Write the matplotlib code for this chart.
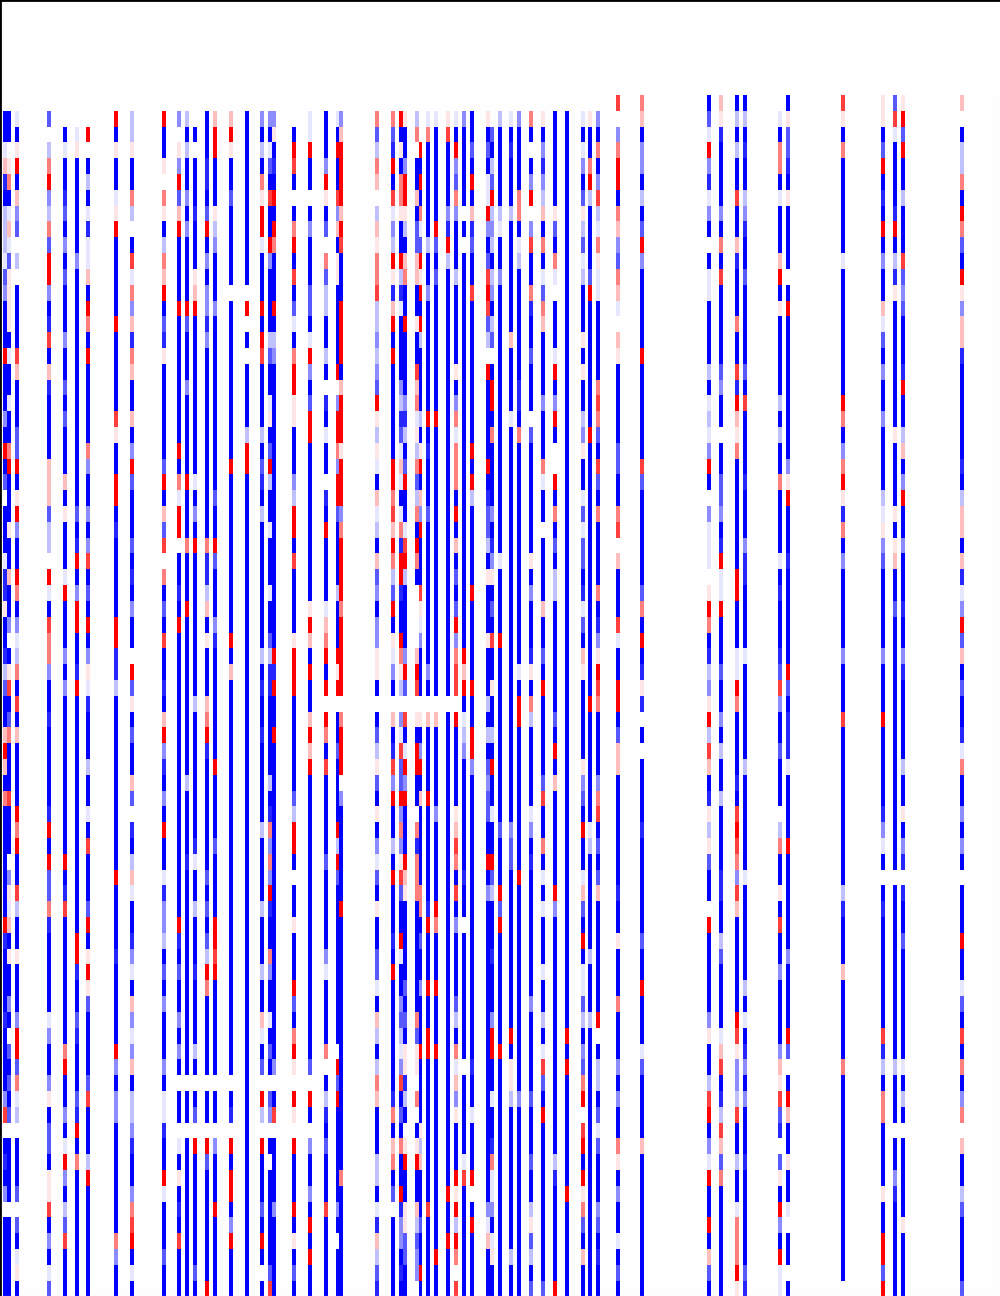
import matplotlib
matplotlib.use('Agg')
import matplotlib.pyplot as plt
import numpy as np

# Colunas preenchidas do heatmap (as outras ficam brancas)
column_ids = [0, 1, 3, 11, 15, 18, 21, 28, 32, 40, 44, 46, 48, 51, 53, 57, 61, 65, 67, 68, 73, 77, 81, 84, 85,
              94, 98, 100, 101, 104, 105, 107, 109, 112, 114, 116, 118, 122, 123, 125, 128, 130, 133, 136, 139,
              142, 146, 148, 150, 155, 161, 178, 181, 185, 187, 196, 198, 212, 222, 225, 227, 242]

# Um caractere por celula
level_chars = ['B', 'A', 'm', 'n', 'l', 'k', '.', 'p', 'q', 'o', 'r', 'R']
level_values = [-1.0, -0.85, -0.65, -0.45, -0.25, -0.1, 0.0, 0.1, 0.25, 0.5, 0.75, 1.0]

rows_00_18 = [
    ".BBkqABlllkmnBBBRBB", ".BB.poBkqkmppppBkBB", ".kBpRBqnm.l.BBBBrqB", ".m.loRnlomRRnBArBqA", "..BkBBAmBnBmBBBnBBm",
    "..kpBBBBBBnBBBBBBBB", "..R.BlBkAkkqBRoBRBB", ".RBpBBkpRBBBBBRBBBB", ".llpBBol.BrkonqAoqB", ".RBBp.opBloqRBmApBB",
    ".n.pnRmqRBBBBRBBBBB", ".lBlBBnBnBBBBRmBBBn", "..B.BBBABBBpqRBBBBB", ".BBBAABmRBnBnnAnBBB", ".qRRBBBplnBBBnBBBBB",
    ".qRpBBmBBBBB.BBBBBB", ".BBBBBBBBBBB.R.B.BB", ".nBlBopRRkBBBRBRrBB", ".nBkmBrBBRnBBBBlmBB", ".npBABRBRoBBBRBlnBB",
    "..BRrB.BoRBrBmkBoRR", ".kkRBB.BnBBBmmBkRnB", ".BBBnRpBm.omllBBlB.", ".kBRBBrnqBppBBBBBR.", ".nqRRRRqRrBBBRRRRBq",
    ".omloq.lqpoorllnlnm", ".omARBrknlRpAqRBRBB", ".RBpBoopBBRlAkBBBBn", ".pBBnRRplBqoBBRBBBB", ".lo.BBqBmmqqBBpBBrq",
    "...RBRBokmRpRBRlBBB", ".koBBBBBBlBBnBBBBBB", ".kBBBBBBRmBmBBBBBBB", ".prBBBBnARlBBBBBBBB", ".kBRnmonBBBlBBBBBpB",
    ".nBBBBB.B.BBBBBBBBB", ".BBmBRBqAmBBrBBBBBB", ".pBmBkkRnBmrRrml.RB", "..mBlmRlnlBlnBlm.BR", ".lBBBBBlkBBnBBBBBBB",
    ".kBABBBlBBBBBBBqBBB", ".nBBBBooBklBBBBBBBA", ".oB.BnR.nrBBoABBmBB", ".pBnAnlqBoBkmoqBBBB", ".BBBBBBpmBok.BBBkRB",
    ".BBBBBBBBBBBBBBBBBB", ".kBknBmplmklBBBpBpB", ".pBBoRlBBBBmRBBBBBB", ".nBoBnrlkopkkBBBBBo", "r.noRRBoqnmoqk.qpBB",
    "oqBnnBlBmRnBBBBBRBB", "BmkRnAknB.BkkBBBBlB", "qpABBBBnBoBrBBBBBmn", "BlBlBBrBBqABBBoBBrA", "BlBABBlnABBmBBBBBmB",
    ".kBooBkBBBqRBpBBBBB", "BpmmABpBBBB.BRBBBBB", "rpBoBBBBBBkBBBBBBBB", "ppBmRBABRBnBBqkmBnB", "mrkBBBBARBlApBBBBBB",
    "pRmRBBlBBBrmnmBBBAR", "q.BlloBRomBRpnqqABB",
]

rows_19_37 = [
    "BnBRBm.BBBkAApBBAlm", "kBBoRBBBpBBqBBn.Bpr", "BBmmRBpRnBBRoBnkloB", "BBBBqqqmll.RkBroonB", "BmBBBqBpBBBkRBBBnBn",
    "BBBBBBBmBARBnRRBBAR", "BBBonBBnBnrBmBRBnpk", "BrpBBRRBABBBBBRRAAl", "BqBnRmBBBmBABnBB.Rm", "BBBBmRBqmr.oBmBrBBA",
    "BBBRBokRR.BBABRBBBB", "BBBBBRBBBoBBBRBBBBB", "BBBBBkBnBRBBBBBBBBB", "BBBBBBBBBoAAlqBpBBB", "BBBBBBmBBRmBBBnABBB",
    "BBBBRBBBBBBBBBBRBqB", "BBlRRBBBBBBBBBBBBBB", "BBlBmABlBBBBBBBBlBA", "kpBmRlBBkBBBkBBmlAA", "BBBBBBBBBBBBBBBBRAR",
    "ppBBBnlRRBrBBBBpRRR", "mRRBBBBBBBBBBpRqBRB", "ABkBB.ABRBBBBkqoRBR", "nRRonRRmBBBBlBBBRpR", "RRRpRRRnoRRRRoRRRRR",
    "RplpkBqklBqmnBnnppB", "BBBBRRorqRolmRBpknB", "lAmkqkBkoARRABBRopl", "nAlBmRBBkrRlBBBBnRm", "okplomloBRoB....qRr",
    "BlBpRBqnRBBBrpknBBB", "BRBABBBmBBBBBBBBBnB", "BRBBBBBBBBBBBBBBBBB", "BBBBBBBBBBBBBBBBBBB", "nokoooBRBqBmBmRnorr",
    "BBBBBBBBBBBBBBBBRqR", "BBBRBRlBBBBBRBBBBBR", "BBBBRBAmmlBpBBBpBBB", "RBoBBBBnBAnpBmBrBBp", "BBBBBBBBBBkBBBBRBBB",
    "BkBBBBBBBBBBBBBBBBB", "ABoBBBBBBBBBBBBBBkB", "B.mBBBBBBBpBnBBBApB", "nBBBokBB.BBBBqBBmBR", "nRB..RBoBmBllBBBBBB",
    "BBBBBBBBBBBBBBBBBBB", "BlnpBBkmkmmBAkmBqpB", "BBRBBBBBBBBBBBBBBBB", "romBrmBoBBBBoBAnpRr", "BBBmmBBor.qBBBrkBBR",
    "BBBBrmBBBBBBmoBRBAp", "klknRB.nkkk.pRoBAln", "BB.BBmmnBARkkRBBBmB", "RqpoBBBBBBBRRBBBkkR", "rBBBBABBBnAABBBBkBB",
    "lBlBBoBBBBkBABBBAmr", "BBBBnpRBBBABBBBBBRm", "RoBnoRpAoBnBBBBBnBB", "BnBBBBlkpnmBBBBBnBB", "BBpBBBBpBpqBBmBBBBB",
    "BBlqBnRBBnBBBABBnAB", "BBBBABlqqBqAknRmqBm",
]

rows_38_56 = [
    "BBqRqBoBBBBBBBRABBB", "BmoBBBrBBB.npkqBpBB", "rBqBBBBRoRBBrlBBpBB", "BABBBBBARBRmmoABBBB", "BBBBBBBBBBRBArBBBBB",
    "BBBBBBBBBBBBBBBRRAB", "ABBBlBBkBrBBBmRBpRp", "BBBBBBBBBBBRBBBBABB", "pBmBBqm.ABlqkBBAnkB", "BqRnABnBRBBkAnnlBmB",
    "BBBBBBBBBBBBBBRABmB", "BBBBBlBBBBABBBBBBBB", "lBBBBBBBBAkBBlBBBAB", "qoRABBBBBBBmBmBmlRo", "BBBBRBBBBmBBBBRRrRB",
    "BBBBBBBBBBBBBBBBBBB", "BBBBBBBBBBBBBBBBBBB", "BBABBBBBlBBBBlBBBlB", "BBBBBlBAononRABBonB", "BBRBBBBBBBBBBBBBBBB",
    "BBBBBBmlRRB.BBpBBBR", "BqRqRBBBBBBBBBBBBBB", ".RoBrBBBBBmBBBBBnkB", ".BBmBBBBRlRmBBBBBBB", ".oRRR.nBBBBBBRBBBBB",
    ".BmlpmBpBnkmBpBBmmk", ".qBArnRBBlBRBBBABRB", ".nkrmmRnonprmBBRkBB", ".rBkRnRBBBRqpBBBBBm", ".pBRRBB.oAoooBBBBBB",
    ".pBnRBqBBBBBooBmBBn", ".qBBBBRBBBBBBARBBBR", ".qBBBBBnBBBBBRoBBBR", ".BBBBBBBBBBBBBBBBBB", ".RBBBBBpqroBrBnBBBB",
    "BklnBBBBBBBABB.BBBB", "BBRRnBBBBBBBBBBBBBB", "lBlBmnmmBBRBnBBBBBB", "BBlBRBBkBBRmlBBBABB", "BBBBBBBBmBBBRmRBBBB",
    "BBBBBBBBnmmBBBBBBBB", "RRBBBBBBBBBRBBBBBBB", "olBBBBBknBABBBBBBBB", "BBBBBmrBBoBkBkBBBkB", "BmBRBqBBBBBBRnBBBBB",
    "BBBBBBBBBBBBBBBBBBB", "BBBBpnmBRBBkqmBRBkk", "RBBBBBBBklBBBBBBlBB", "oBBBBnorBmBmqBBBBBB", "RBmqqBBBBBBBABBpBBB",
    "A.B.BBBBABBBBBBmBBR", "pRlrqBAplpmBB.RBBBB", "BnBlBBlBBBBAABBlmBB", "oBBBBABrRronrqBBBBB", "BBBBlBBBBBBkBBBBBBl",
    "nBBmBBB.loBBpBrBBnB", "BAAAkBBBBRBBBBBBnBB", "BrBBBBBBBBBBlABBBqB", "BRBBBBBAnkB.BABBBBB", "BBBBBBBBBBB.BBBBBBB",
    "BBBBlBBpBnA.ABBmBBB", "BBAkoBBnBnB.BBBRBBk",
]

rows_57_75 = [
    "BABBBBnr.BABn.BBBBB", "nB.mBmBm.BBBB.BBBBB", "BnRRmokl.BBBm.mBkpB", "BknBBnpBmmBpprBnBkm", "BBBoRBBnBkRnBlmrBBB",
    "BmABBBmARBoBBBBBBBB", "mBBBBmrBBBlRBBBBBBB", "BBBRnBnnBBBBBBBonBB", "qnknqBllnABBnorRBkB", "nBBBnBkkABBRkBBBmBB",
    "BnBnB.BB.kBpBABrBBB", "BBBBB.BB.BBBBBBBBBB", "BBBlB.Bm.RBBBBBBBmB", "BBBBB.BB.RmBBBBBBBR", "BBBBB.BB.nBBBRBBBBB",
    "BBBBB.BA.RBRRBnRBBB", "BBBBBBBBBBBBBBBBBBB", "BqkBm.Rl.RBBBmBRB.B", "BkBmB.mn.B.BBBBBBmr", "BBBBn.Br.BBBBnBBBBB",
    "mBoRp.Rp.RBBBRBpBmB", "BBBBm.RB.nBBnBRBRBB", "BBBo.BlABmBBBrBBBBB", "BBB.RmRBBBBBBnB.BBB", "BBBBBBBBBBBoBBBBBBB",
    "BqlBloqBBBllBkAqlmA", "BBBBBBAoBqoBm.BBBBB", "nmlknrBmBoBBRAnnBAB", "BmBppAlB.pRBBppmmBB", "Bompp.o.BpRBBqlmnn.",
    "BBBRBBBBplqBBBmBBRB", "BBRRBBBBBBBBBrBBBBB", "BBBRBBBBBBBBBBBBRBB", "BBBBBBBBBBBBRBBRBBB", "mlBokqnpBBBRpRlRo.r",
    "BBBB.BBBBBkrBBBBBBB", "BBBBABBkBBBR.BRBBBB", "BBBBBBBBBBBBBnkqBBB", "BnRRBBkBBAokknBkpBB", "BBBRBBBBBBBBBBBBBBB",
    "BBRBpplBBBBBBBBBlBB", "BBBBBBnBBBBBBBBBBBB", "nBBBBBmBBBmBBlpmlBm", "BlBkrmBRBBBBBBBBBBm", "BBBBBBBBBBlABBBBBBR",
    "BBRBRBBBBBBBRBBBBBB", "mlBnmoR.rRBRpomBqBB", "BlBBBBBBBBBBBBBBBBB", "BR.BllBmkmBBBnmBABB", "oBBBnBnBBopBnBBkBmB",
    "BBBkmBBBBqBBBBBBBBB", "BnpBBlrRBnkRBBRBqmB", "BBkqrBAlrqmoBBBBBBB", "BRrpnnlrBBlBBkoooRp", "BkBAnBnBBBABBBBBBmA",
    "BBBnqprmA.mpBRnBRkk", "BBRm.BRqBBpBBk.BB.B", "BBBBoBBBBBBBBBBBBB.", "BBrAlBooBBBBpBBRRmR", "BBBBlBBB.BBnABBBBBB",
    "BBBBkBlB.BBBBBpBBBB", "mBrBoBno.qBBlmBBBBm",
]

n_rows = 76
n_cols = 252

lookup = dict(zip(level_chars, level_values))
grid = np.zeros((n_rows, n_cols))
for i, col in enumerate(column_ids):
    text = rows_00_18[i] + rows_19_37[i] + rows_38_56[i] + rows_57_75[i]
    grid[:, col] = [lookup[c] for c in text]

fig = plt.figure(figsize=(10, 12.96), dpi=100)
ax = fig.add_axes([0, 0, 1, 1])
ax.pcolormesh(np.arange(n_cols + 1), np.arange(n_rows + 1), grid, cmap='bwr', vmin=-1, vmax=1,
              edgecolors='none', antialiased=False)

# Limites ajustados para a grade cair nos mesmos pixels
ax.set_xlim(-0.873, 252.1)
ax.set_ylim(75.97, -6.01)
ax.set_xticks([])
ax.set_yticks([])

ax.spines['left'].set_linewidth(2)
ax.spines['top'].set_linewidth(2)
ax.spines['right'].set_color('#eeeeee')
ax.spines['bottom'].set_color('#eeeeee')

plt.savefig('out.png', dpi=100)
plt.close()
